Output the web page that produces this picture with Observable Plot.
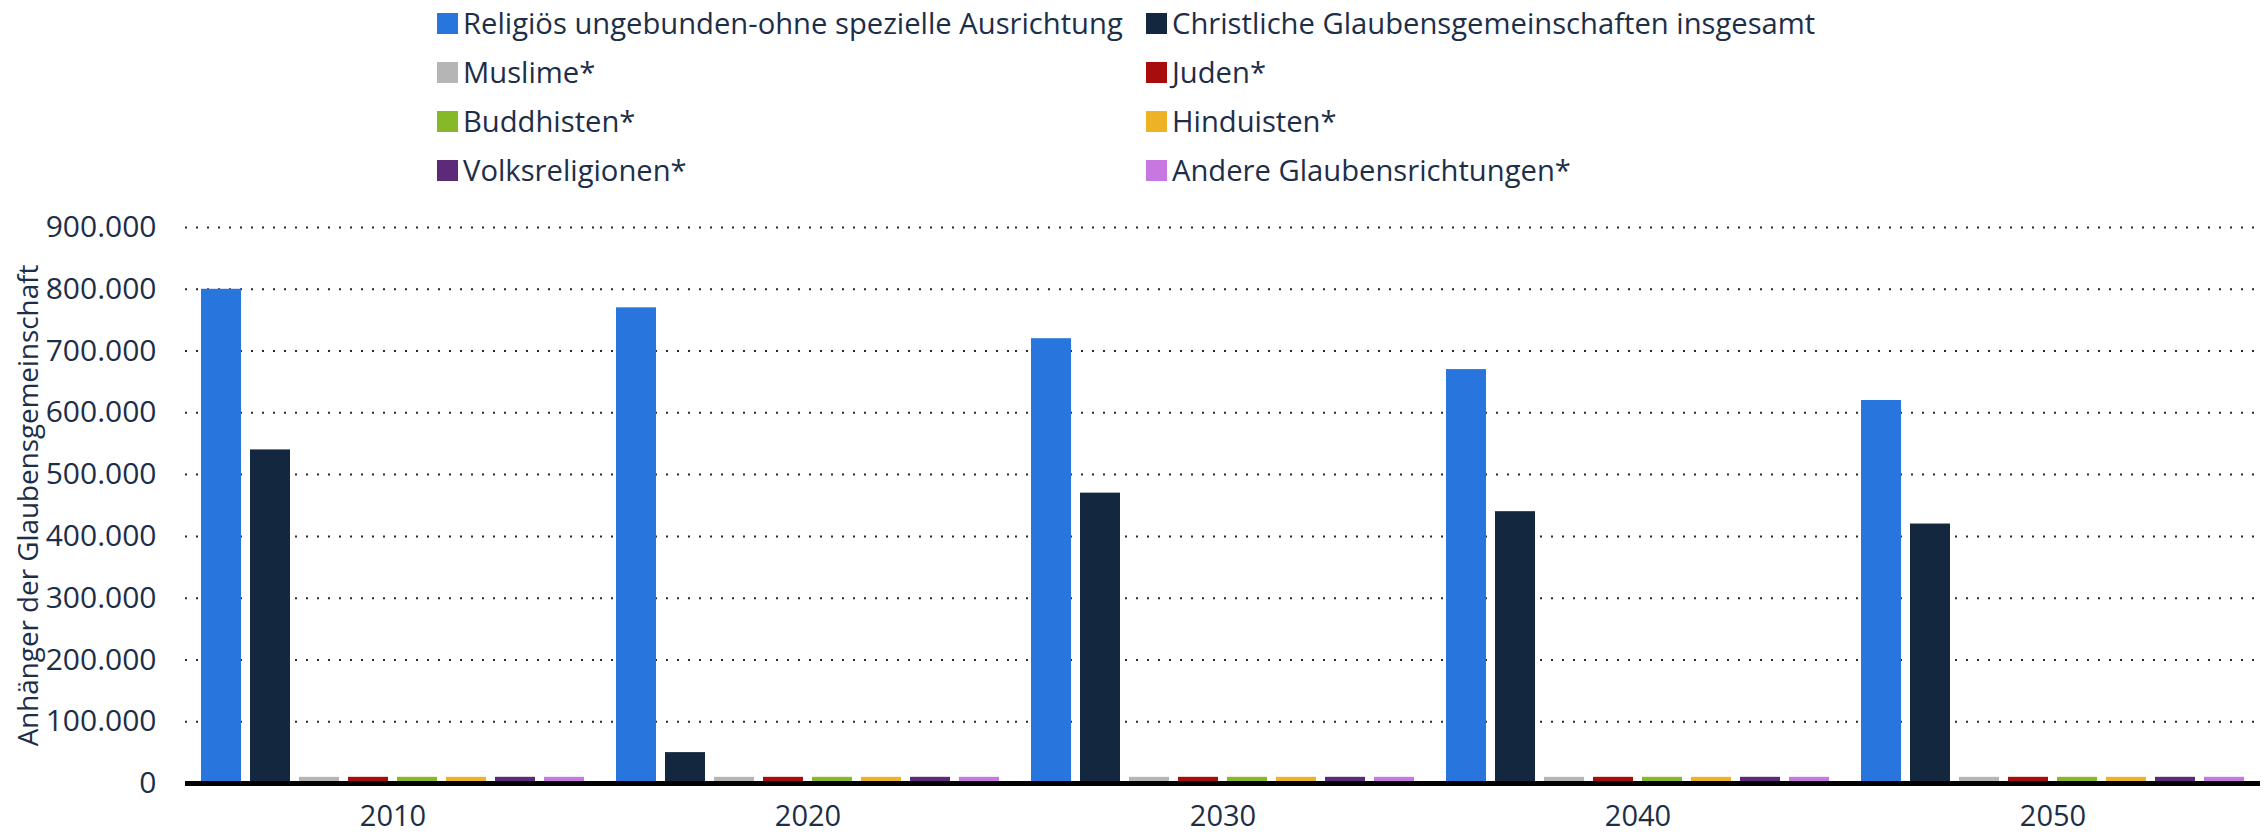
<!DOCTYPE html>
<html>
<head>
<meta charset="utf-8">
<script src="https://cdn.jsdelivr.net/npm/d3@7"></script>
<script src="https://cdn.jsdelivr.net/npm/@observablehq/plot@0.6"></script>
<style>
  html, body { margin: 0; padding: 0; background: #fff; }
  #wrap { position: relative; width: 2266px; height: 835px; overflow: hidden; font-family: "Open Sans", sans-serif; }
  #chart { position: absolute; left: 0; top: 0; }
  .legend-item { position: absolute; display: flex; align-items: center; height: 21px; line-height: 21px; font-size: 29.2px; color: #1d2e48; white-space: nowrap; }
  .legend-item .sw { width: 21px; height: 21px; margin-right: 5px; flex: none; }
</style>
</head>
<body>
<div id="wrap">
  <div id="chart"></div>
  <div id="legend"></div>
</div>
<script>
const years = ["2010", "2020", "2030", "2040", "2050"];
const seriesNames = [
  "Religiös ungebunden-ohne spezielle Ausrichtung",
  "Christliche Glaubensgemeinschaften insgesamt",
  "Muslime*",
  "Juden*",
  "Buddhisten*",
  "Hinduisten*",
  "Volksreligionen*",
  "Andere Glaubensrichtungen*"
];
const seriesColors = ["#2876dd", "#13283f", "#b5b5b5", "#a80d0d", "#86b928", "#eeb226", "#5c2a78", "#c678e0"];

const religiosUngebunden = [800000, 770000, 720000, 670000, 620000];
const christlich = [540000, 50000, 470000, 440000, 420000];
const muslime = [10000, 10000, 10000, 10000, 10000];
const juden = [10000, 10000, 10000, 10000, 10000];
const buddhisten = [10000, 10000, 10000, 10000, 10000];
const hinduisten = [10000, 10000, 10000, 10000, 10000];
const volksreligionen = [10000, 10000, 10000, 10000, 10000];
const andere = [10000, 10000, 10000, 10000, 10000];

const yTicks = [0, 100000, 200000, 300000, 400000, 500000, 600000, 700000, 800000, 900000];
const yLabel = "Anhänger der Glaubensgemeinschaft";

const valueLists = [religiosUngebunden, christlich, muslime, juden, buddhisten, hinduisten, volksreligionen, andere];
const data = [];
years.forEach((yr, i) => {
  seriesNames.forEach((s, j) => data.push({year: yr, series: s, value: valueLists[j][i]}));
});

const fmt = d => d3.format(",")(d).replace(/,/g, ".");

const chart = Plot.plot({
  width: 2266,
  height: 835,
  marginTop: 227,
  marginBottom: 52,
  marginLeft: 185,
  marginRight: 6,
  style: {fontFamily: "'Open Sans', sans-serif", color: "#1d2e48", background: "transparent", overflow: "visible"},
  fx: {domain: years, padding: 0, label: null},
  x: {domain: seriesNames, paddingInner: 0.192, paddingOuter: 0.288, axis: null},
  y: {domain: [0, 900000]},
  color: {domain: seriesNames, range: seriesColors},
  marks: [
    Plot.gridY(yTicks, {stroke: "#2a2a2a", strokeOpacity: 1, strokeWidth: 2, strokeDasharray: "2,9"}),
    Plot.barY(data, {fx: "year", x: "series", y: "value", fill: "series"}),
    Plot.ruleY([0], {stroke: "#000", strokeWidth: 5}),
    Plot.axisY(yTicks, {tickSize: 0, tickPadding: 29, fontSize: 30, tickFormat: fmt, label: null, fill: "#1d2e48"}),
    Plot.axisY([], {tickSize: 0, fontSize: 27.8, label: yLabel, labelArrow: "none", labelAnchor: "center", labelOffset: 167, fill: "#1d2e48"}),
    Plot.axisFx({anchor: "bottom", tickSize: 0, tickPadding: 22, fontSize: 29, label: null, fill: "#1d2e48"})
  ]
});
document.getElementById("chart").appendChild(chart);

const legend = document.getElementById("legend");
const colLeft = [437, 1146];
seriesNames.forEach((s, i) => {
  const el = document.createElement("div");
  el.className = "legend-item";
  el.style.left = colLeft[i % 2] + "px";
  el.style.top = (13 + 49 * Math.floor(i / 2)) + "px";
  const sw = document.createElement("span");
  sw.className = "sw";
  sw.style.background = seriesColors[i];
  const tx = document.createElement("span");
  tx.textContent = s;
  el.appendChild(sw);
  el.appendChild(tx);
  legend.appendChild(el);
});
</script>
</body>
</html>
